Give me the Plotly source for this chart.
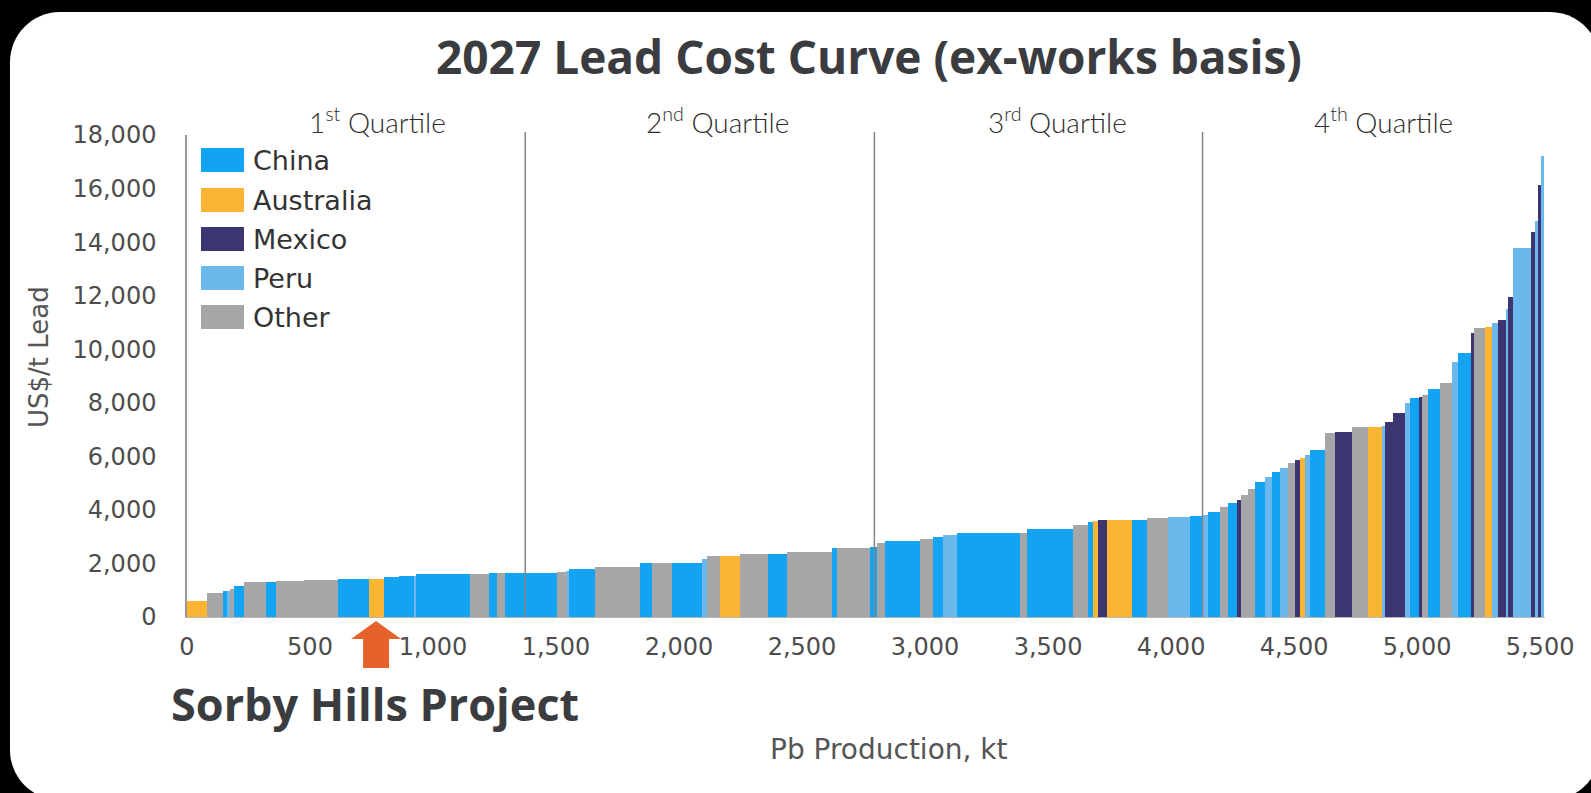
import numpy as np
import plotly.graph_objects as go

# ---- data ----
production_kt = [81, 65, 16, 14, 13, 41, 92, 41, 112, 140,
                 123, 61, 61, 61, 11, 219, 75, 34, 34, 209,
                 41, 7, 108, 183, 47, 82, 122, 20, 54, 81,
                 115, 75, 183, 20, 135, 28, 33, 143, 54, 40,
                 55, 257, 27, 190, 60, 21, 20, 36, 100, 61,
                 87, 89, 54, 19, 49, 33, 34, 17, 31, 27,
                 41, 27, 33, 34, 27, 21, 20, 20, 61, 41,
                 68, 67, 55, 13, 34, 47, 21, 40, 7, 27,
                 47, 48, 27, 54, 10, 44, 28, 27, 34, 6,
                 20, 75, 14, 14, 14, 7]

cost_usd_t = [609, 885, 982, 982, 1060, 1158, 1318, 1318, 1344, 1382,
              1430, 1430, 1490, 1520, 1540, 1600, 1615, 1650, 1650, 1660,
              1665, 1700, 1800, 1880, 2028, 2030, 2035, 2154, 2278, 2280,
              2341, 2353, 2440, 2560, 2565, 2625, 2752, 2850, 2900, 3000,
              3062, 3126, 3150, 3290, 3436, 3560, 3600, 3622, 3622, 3630,
              3686, 3723, 3772, 3809, 3933, 4096, 4246, 4369, 4556, 4769,
              5053, 5240, 5426, 5552, 5739, 5863, 5926, 6050, 6236, 6860,
              6920, 7107, 7107, 7150, 7294, 7606, 7980, 8167, 8200, 8290,
              8503, 8727, 9534, 9870, 10594, 10781, 10818, 10968, 11091, 11500,
              11962, 13769, 14390, 14800, 16133, 17200]

country = ["Australia", "Other", "China", "Peru", "Other", "China", "Other", "China", "Other", "Other",
           "China", "Australia", "China", "China", "Peru", "China", "Other", "China", "Other", "China",
           "Other", "Peru", "China", "Other", "China", "Other", "China", "Peru", "Other", "Australia",
           "Other", "China", "Other", "China", "Other", "China", "Other", "China", "Other", "China",
           "Peru", "China", "Other", "China", "Other", "China", "Australia", "Mexico", "Australia", "China",
           "Other", "Peru", "China", "Peru", "China", "Other", "China", "Mexico", "Other", "Other",
           "China", "Peru", "China", "Peru", "Other", "Mexico", "Australia", "Peru", "China", "Other",
           "Mexico", "Other", "Australia", "Peru", "Mexico", "Mexico", "Peru", "China", "Mexico", "Other",
           "China", "Other", "Peru", "China", "Mexico", "Other", "Australia", "Peru", "Mexico", "Peru",
           "Mexico", "Peru", "Mexico", "Peru", "Mexico", "Peru"]

countries = ["China", "Australia", "Mexico", "Peru", "Other"]
colors = {"China": "#12a4f2", "Australia": "#fbb532", "Mexico": "#3b3571",
          "Peru": "#6cb7ec", "Other": "#a6a6a6"}

quartile_kt = [1375, 2794, 4128]
quartile_labels = ["1<sup>st</sup> Quartile", "2<sup>nd</sup> Quartile",
                   "3<sup>rd</sup> Quartile", "4<sup>th</sup> Quartile"]
quartile_label_kt = [773, 2155, 3540, 4865]
sorby_index = 11

x_ticks = list(range(0, 5501, 500))
y_ticks = list(range(0, 18001, 2000))

# ---- geometry of the page (pixels) ----
W, H = 1591, 793
PL, PR, PT, PB = 187, 1545, 135, 617
X_MAX = 5520


def px(x):
    return (x - PL) / (PR - PL)


def py(y):
    return (PB - y) / (PB - PT)


w = np.array(production_kt, dtype=float)
start = np.concatenate([[0], np.cumsum(w)[:-1]])
centre = start + w / 2
cost = np.array(cost_usd_t, dtype=float)
ctry = np.array(country)

fig = go.Figure()
for c in countries:
    m = ctry == c
    fig.add_trace(go.Bar(x=centre[m], y=cost[m], width=w[m], name=c,
                         marker=dict(color=colors[c], line=dict(width=0)),
                         showlegend=False))

shapes = []

# white rounded panel behind everything
x0, y0, x1, y1, R = 10, 12, 1600, 800, 50
k = 0.5523 * R
panel = (f"M {px(x0)},{py(y0 + R)} "
         f"C {px(x0)},{py(y0 + R - k)} {px(x0 + R - k)},{py(y0)} {px(x0 + R)},{py(y0)} "
         f"L {px(x1 - R)},{py(y0)} "
         f"C {px(x1 - R + k)},{py(y0)} {px(x1)},{py(y0 + R - k)} {px(x1)},{py(y0 + R)} "
         f"L {px(x1)},{py(y1 - R)} "
         f"C {px(x1)},{py(y1 - R + k)} {px(x1 - R + k)},{py(y1)} {px(x1 - R)},{py(y1)} "
         f"L {px(x0 + R)},{py(y1)} "
         f"C {px(x0 + R - k)},{py(y1)} {px(x0)},{py(y1 - R + k)} {px(x0)},{py(y1 - R)} Z")
shapes.append(dict(type="path", xref="paper", yref="paper", path=panel,
                   fillcolor="white", line=dict(width=0), layer="below"))

# quartile dividers
for q in quartile_kt:
    shapes.append(dict(type="line", xref="x", yref="paper", x0=q, x1=q, y0=0, y1=1.006,
                       line=dict(color="#858585", width=1.5)))

# Sorby Hills arrow under its bar
ax = PL + centre[sorby_index] * (PR - PL) / X_MAX
tip, base, bottom, hw, sw = 621, 639, 668, 25, 13
arrow = (f"M {px(ax)},{py(tip)} L {px(ax + hw)},{py(base)} L {px(ax + sw)},{py(base)} "
         f"L {px(ax + sw)},{py(bottom)} L {px(ax - sw)},{py(bottom)} L {px(ax - sw)},{py(base)} "
         f"L {px(ax - hw)},{py(base)} Z")
shapes.append(dict(type="path", xref="paper", yref="paper", path=arrow,
                   fillcolor="#e5622b", line=dict(width=0)))

annotations = []
tick_font = dict(family="DejaVu Sans, Liberation Sans, Arial", size=24, color="#4d4d4d")

# legend drawn by hand (large swatches)
leg_y = [160, 200, 239, 278, 317]
for c, yy in zip(countries, leg_y):
    shapes.append(dict(type="rect", xref="paper", yref="paper",
                       x0=px(201), x1=px(244), y0=py(yy + 12), y1=py(yy - 12),
                       fillcolor=colors[c], line=dict(width=0)))
    annotations.append(dict(text=c, xref="paper", yref="paper", x=px(251), y=py(yy),
                            xanchor="left", yanchor="middle", showarrow=False,
                            font=dict(family="DejaVu Sans, Arial", size=27, color="#333333")))

for lab, xq in zip(quartile_labels, quartile_label_kt):
    annotations.append(dict(text=lab, xref="x", yref="paper", x=xq, y=py(120),
                            xanchor="center", yanchor="middle", showarrow=False,
                            font=dict(family="Lato, Open Sans", size=28, color="#2e2e2e", weight=300)))

annotations.append(dict(text="<b>2027 Lead Cost Curve (ex-works basis)</b>", xref="paper", yref="paper",
                        x=px(869), y=py(56), xanchor="center", yanchor="middle", showarrow=False,
                        font=dict(family="Open Sans", size=46, color="#3a3c40")))
annotations.append(dict(text="<b>Sorby Hills Project</b>", xref="paper", yref="paper",
                        x=px(169), y=py(703), xanchor="left", yanchor="middle", showarrow=False,
                        font=dict(family="Open Sans", size=45, color="#3a3c40")))
annotations.append(dict(text="US$/t Lead", xref="paper", yref="paper", x=px(39), y=py(357),
                        textangle=-90, xanchor="center", yanchor="middle", showarrow=False,
                        font=dict(family="DejaVu Sans, Arial", size=26, color="#555555")))
annotations.append(dict(text="Pb Production, kt", xref="paper", yref="paper", x=px(889), y=py(749),
                        xanchor="center", yanchor="middle", showarrow=False,
                        font=dict(family="DejaVu Sans, Arial", size=28, color="#555555")))

fig.update_layout(
    width=W, height=H, autosize=False,
    margin=dict(l=PL, r=W - PR, t=PT, b=H - PB, pad=0),
    paper_bgcolor="black", plot_bgcolor="rgba(0,0,0,0)",
    barmode="overlay", bargap=0,
    showlegend=False,
    shapes=shapes, annotations=annotations,
    xaxis=dict(range=[0, X_MAX], tickvals=x_ticks, tickformat=",d", showgrid=False,
               zeroline=False, showline=True, linecolor="#b5b5b5", linewidth=1,
               ticks="", ticklabelstandoff=8, tickfont=tick_font),
    yaxis=dict(range=[0, 18000], tickvals=y_ticks, tickformat=",d", showgrid=False,
               zeroline=False, showline=True, linecolor="#9a9a9a", linewidth=1.5,
               ticks="", ticklabelstandoff=24, tickfont=tick_font),
)

# the page's default body margin would push the figure 8px off; pin it to the corner
fig.write_html("out.html", config={"displayModeBar": False},
               post_script="document.body.style.margin='0';document.body.style.background='black';")
